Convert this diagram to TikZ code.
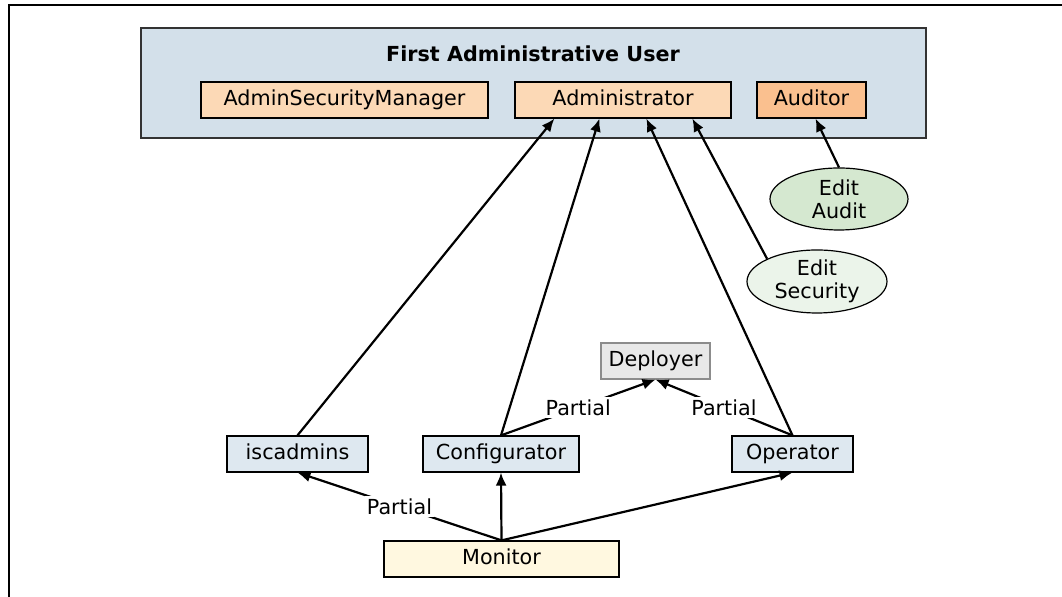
\documentclass[tikz,border=0pt]{standalone}
\usepackage{fontspec}
\setmainfont{DejaVu Sans}
\usepackage{tikz}
\usetikzlibrary{arrows.meta,shapes.geometric}

\definecolor{usrblue}{RGB}{211,224,234}
\definecolor{rolepeach}{RGB}{252,217,182}
\definecolor{audorange}{RGB}{250,192,143}
\definecolor{grpblue}{RGB}{222,232,240}
\definecolor{monyellow}{RGB}{255,248,224}
\definecolor{depgray}{RGB}{232,232,232}
\definecolor{editgreen}{RGB}{213,232,208}
\definecolor{editpale}{RGB}{235,244,234}

\begin{document}
\begin{tikzpicture}[
            x=0.5pt, y=-0.5pt,
            font=\fontsize{10.35}{11.5}\selectfont,
            box/.style={draw, line width=0.6pt, minimum height=18pt, inner sep=0pt, text height=7.6pt, text depth=2.2pt, align=center},
            ell/.style={draw, ellipse, line width=0.6pt, inner sep=0pt, align=center},
            arr/.style={-{Latex[length=6.5pt,width=5.5pt]}, line width=1.1pt},
            lbl/.style={fill=white, inner sep=1pt}
        ]
            \useasboundingbox (0,0) rectangle (1062,597);
            \draw[line width=0.8pt] (9,597) -- (9,5) -- (1062,5);

            % first administrative user
            \node[box, fill=usrblue, draw=black!80, line width=0.9pt, minimum width=392.5pt, minimum height=55pt] (fau) at (533.5,83) {};
            \node[font=\fontsize{10.35}{11.5}\selectfont\bfseries] (title) at (533,54) {First Administrative User};
            \node[box, fill=rolepeach, minimum width=143.5pt] (asm) at (344.5,100) {AdminSecurityManager};
            \node[box, fill=rolepeach, minimum width=108pt] (admin) at (623,100) {Administrator};
            \node[box, fill=audorange, minimum width=54.5pt] (aud) at (811.5,100) {Auditor};

            \node[ell, fill=editgreen, minimum width=69pt, minimum height=31pt] (eaud) at (839,199) {Edit\\Audit};
            \node[ell, fill=editpale, minimum width=70pt, minimum height=31.5pt] (esec) at (817,281.5) {Edit\\Security};

            \node[box, fill=depgray, draw=black!45, minimum width=54.5pt] (dep) at (655.5,361) {Deployer};
            \node[box, fill=grpblue, minimum width=70.5pt] (isc) at (297.5,454) {iscadmins};
            \node[box, fill=grpblue, minimum width=78pt] (conf) at (501,454) {Configurator};
            \node[box, fill=grpblue, minimum width=60.5pt] (op) at (792.5,454) {Operator};
            \node[box, fill=monyellow, minimum width=117.5pt] (mon) at (501.5,559) {Monitor};

            % up to the first user
            \draw[arr] (isc.north) -- ([xshift=20pt]admin.south west);
            \draw[arr] (conf.north) -- ([xshift=42.5pt]admin.south west);
            \draw[arr] (op.north) -- ([xshift=66pt]admin.south west);
            \draw[arr] (esec.north west) -- ([xshift=89pt]admin.south west);
            \draw[arr] (eaud.north) -- ([xshift=2pt]aud.south);

            % partial roles
            \draw[arr] (conf.north) -- node[lbl] (p1) {Partial} (dep.south);
            \draw[arr] (op.north) -- node[lbl] (p2) {Partial} (dep.south);
            \draw[arr] (mon.north) -- node[lbl] (p3) {Partial} (isc.south);
            \draw[arr] (mon.north) -- (conf.south);
            \draw[arr] (mon.north) -- (op.south);
        \end{tikzpicture}
\end{document}
